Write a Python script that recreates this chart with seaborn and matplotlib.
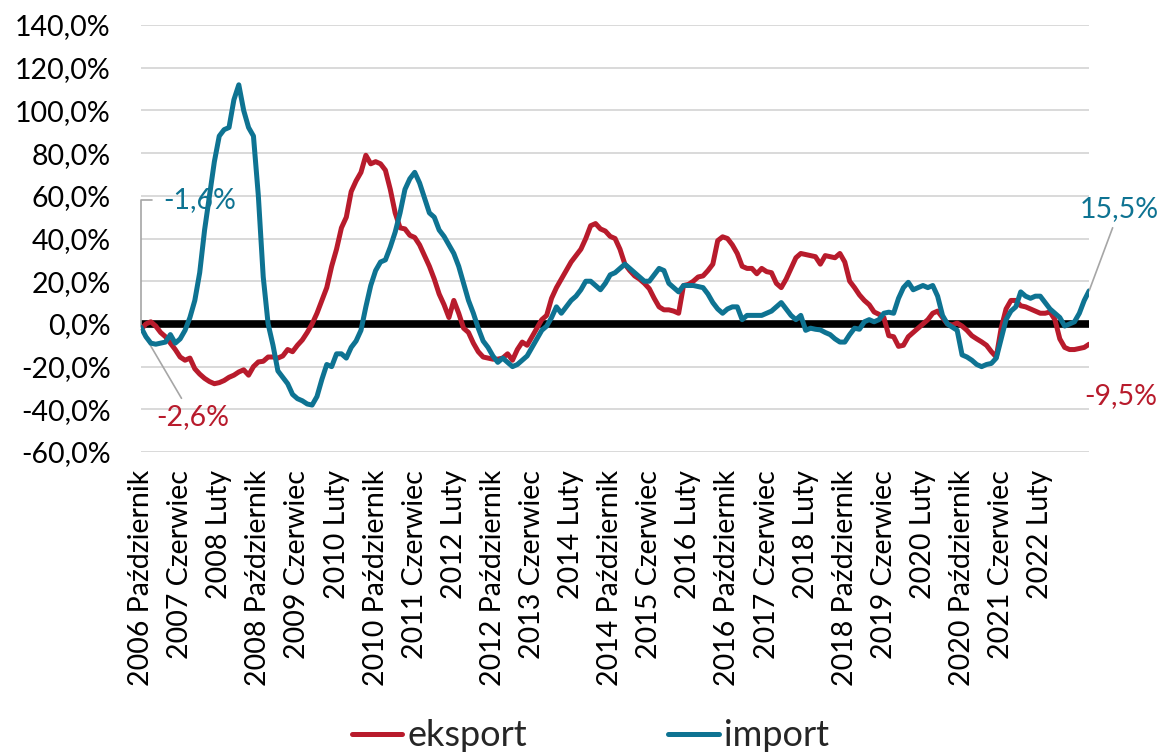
import pandas as pd
import matplotlib
matplotlib.use("Agg")
import matplotlib.pyplot as plt
from matplotlib.lines import Line2D
import seaborn as sns

# monthly series, 2006 Październik .. 2022 Grudzień (y/y change, %)
START = "2006-10-01"
MONTHS_PL = ["Styczeń", "Luty", "Marzec", "Kwiecień", "Maj", "Czerwiec",
             "Lipiec", "Sierpień", "Wrzesień", "Październik", "Listopad", "Grudzień"]

# labels shown on the category axis
TICK_LABELS = [
    "2006 Październik", "2007 Czerwiec", "2008 Luty", "2008 Październik",
    "2009 Czerwiec", "2010 Luty", "2010 Październik", "2011 Czerwiec",
    "2012 Luty", "2012 Październik", "2013 Czerwiec", "2014 Luty",
    "2014 Październik", "2015 Czerwiec", "2016 Luty", "2016 Październik",
    "2017 Czerwiec", "2018 Luty", "2018 Październik", "2019 Czerwiec",
    "2020 Luty", "2020 Październik", "2021 Czerwiec", "2022 Luty",
]

eksport = [
    -2.6, 0, 1, -1, -4, -6, -9, -12, -15.5, -17,
    -16, -21, -23.5, -25.5, -27, -28, -27.5, -26.5, -25, -24,
    -22.5, -21.5, -24, -20, -17.8, -17.5, -15.5, -15.5, -16, -15,
    -12, -13, -10, -7.5, -4, 0, 5, 11, 17, 27,
    35, 45, 50, 62, 67, 71, 79, 75, 76, 75,
    72, 63, 52, 45, 44.5, 41.5, 40.5, 37, 32, 27,
    21, 14, 9, 3, 11, 5, -2, -4, -9, -13,
    -15.5, -16, -16.5, -16.5, -16, -14, -17, -12, -8.5, -10,
    -6, -2, 2, 4, 12, 17, 21, 25, 29, 32,
    35, 40, 46, 47, 44.5, 43.5, 41, 40, 35, 28,
    25, 22.5, 21, 19, 16.5, 12, 8, 6.6, 6.6, 6,
    5, 18, 18.5, 20, 22, 22.5, 25, 28, 39, 40.8,
    40, 37, 33, 27, 26, 26, 23.5, 26, 24.5, 24,
    19, 17, 21, 26, 31, 33, 32.5, 32, 31.5, 28,
    32, 31.5, 31, 33, 29, 20, 17, 13.6, 11, 9,
    5.6, 4.5, 3, -5.5, -6, -10.5, -10, -6, -4, -2,
    0, 2, 5, 6, 3, 0, -0.5, 0.4, -1, -3,
    -5.5, -7, -8.4, -10, -13, -15.5, -2, 7, 11, 11,
    8.5, 8, 7, 6, 5, 5, 5.6, 2, -7, -11,
    -12, -12, -11.5, -11, -9.5,
]

imp = [
    -1.6, -6, -9, -9.5, -9, -8.5, -5, -9, -7, -3,
    3, 11, 24, 44, 60, 76, 88, 91, 92, 105,
    112, 100, 92, 88, 60, 22, 0, -10, -22, -25,
    -28, -33, -35, -36, -37.5, -38, -34, -26, -19, -20,
    -14, -14, -16, -11, -8, -3, 8, 18, 25, 29,
    30, 36, 43, 52, 63, 68, 71, 66, 59, 52,
    50, 44, 41, 37, 33, 27, 19, 11, 5, -2,
    -8, -11, -15, -18, -16, -18, -20, -19, -17, -15,
    -11, -7, -3, -1, 3, 8, 5, 8, 11, 13,
    16, 20, 20, 18, 16, 19, 23, 24, 26, 28,
    26, 24, 22, 20, 20, 23, 26, 25, 19, 17,
    15, 18, 18, 18, 17.5, 17, 14, 10, 7, 5,
    7, 8, 8, 2, 4, 4, 4, 4, 5, 6,
    8, 10, 7, 4, 2, 4, -3, -2, -2.5, -2.8,
    -4, -5, -7, -8.5, -8.5, -5, -2, -2.5, 1, 2,
    1, 2, 5, 5.5, 5, 12, 17, 19.5, 16, 17,
    18, 17, 18, 13, 4, 0, -1.5, -3, -14.5, -15.5,
    -17, -19, -20, -19, -18.5, -16, -7, 2, 6, 8,
    15, 13, 12, 13, 13, 10, 7, 5, 3, -1,
    0, 1, 5, 11, 15.5,
]

RED = "#B81B2C"
TEAL = "#0E7392"
GRID = "#D9D9D9"
LEADER = "#A6A6A6"
FS = 20.5
LEG_FS = 26

n = len(eksport)
dates = pd.date_range(START, periods=n, freq="MS")
labels = [f"{d.year} {MONTHS_PL[d.month - 1]}" for d in dates]

df = pd.DataFrame({"idx": range(n), "eksport": eksport, "import": imp})
long_df = df.melt(id_vars="idx", var_name="seria", value_name="val")

sns.set_style("white")
plt.rcParams["font.family"] = ["Lato", "DejaVu Sans"]

fig = plt.figure(figsize=(11.6, 7.54), dpi=100)
ax = fig.add_axes([0.1216, 0.4005, 0.8173, 0.5663])

ax.axhline(0, color="black", lw=5.5, zorder=1.5)
sns.lineplot(data=long_df, x="idx", y="val", hue="seria",
             palette={"eksport": RED, "import": TEAL},
             linewidth=3.6, legend=False, ax=ax, zorder=4)

ax.set_xlim(0, n - 1)
ax.set_ylim(-60, 140)
ax.set_yticks(range(-60, 141, 20))
ax.set_yticklabels([f"{v:.1f}%".replace(".", ",") for v in range(-60, 141, 20)])
ax.set_xticks([labels.index(t) for t in TICK_LABELS])
ax.set_xticklabels(TICK_LABELS, rotation=90)
ax.tick_params(axis="y", length=0, pad=22, labelsize=FS, labelcolor="black")
ax.tick_params(axis="x", length=0, pad=13, labelsize=FS, labelcolor="black")
ax.set_xlabel("")
ax.set_ylabel("")
ax.yaxis.grid(True, color=GRID, lw=1.4)
ax.xaxis.grid(False)
ax.set_axisbelow(True)
for s in ax.spines.values():
    s.set_visible(False)


def pct(v):
    return f"{v:.1f}%".replace(".", ",")


# value labels at the first and last points (drawn under the lines)
ax.annotate(pct(imp[0]), xy=(0, imp[0]), xytext=(16, 92), textcoords="offset points",
            ha="left", va="center", color=TEAL, fontsize=FS, zorder=2,
            arrowprops=dict(arrowstyle="-", color=LEADER, lw=1.2, shrinkA=6, shrinkB=0,
                            connectionstyle="angle,angleA=0,angleB=90,rad=0"))
ax.annotate(pct(eksport[0]), xy=(0, eksport[0]), xytext=(37, -63), textcoords="offset points",
            ha="center", va="center", color=RED, fontsize=FS, zorder=2,
            arrowprops=dict(arrowstyle="-", color=LEADER, lw=1.2, shrinkA=2, shrinkB=0))
ax.annotate(pct(imp[-1]), xy=(n - 1, imp[-1]), xytext=(22, 59), textcoords="offset points",
            ha="center", va="center", color=TEAL, fontsize=FS, zorder=2,
            arrowprops=dict(arrowstyle="-", color=LEADER, lw=1.2, shrinkA=2, shrinkB=0))
ax.annotate(pct(eksport[-1]), xy=(n - 1, eksport[-1]), xytext=(23, -37), textcoords="offset points",
            ha="center", va="center", color=RED, fontsize=FS, zorder=2)

handles = [Line2D([], [], color=RED, lw=3.6), Line2D([], [], color=TEAL, lw=3.6)]
fig.legend(handles, ["eksport", "import"], loc="center", bbox_to_anchor=(0.509, 0.024),
           ncol=2, frameon=False, fontsize=LEG_FS, handlelength=1.4, handletextpad=0.15,
           columnspacing=3.9)

fig.savefig("out.png", dpi=100)
